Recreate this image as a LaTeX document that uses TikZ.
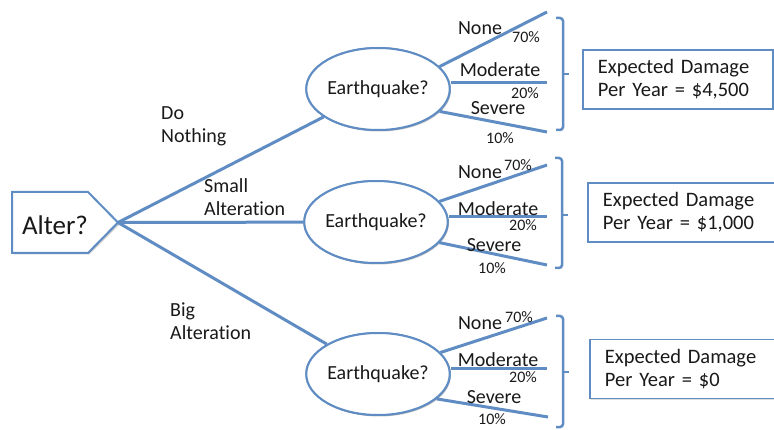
\documentclass[tikz,border=0pt]{standalone}
\usepackage{fontspec}
\setmainfont{Carlito}[RawFeature={-liga;-calt}]
\usetikzlibrary{shapes.geometric,shadows,calc}
\definecolor{lnblue}{RGB}{95,140,195}
\definecolor{txt}{RGB}{25,25,25}
\begin{document}
\begin{tikzpicture}[x=1pt,y=-1pt,
  lbl/.style={font=\fontsize{20}{23}\selectfont, text=txt, inner sep=0pt},
  pct/.style={font=\fontsize{16}{18}\selectfont, text=txt, inner sep=0pt},
  mainlbl/.style={font=\fontsize{20}{23}\selectfont, text=txt, inner sep=0pt, align=left, anchor=west},
  eqnode/.style={ellipse, draw=lnblue, line width=2pt, fill=white, minimum width=120pt, minimum height=82pt, inner sep=0pt, text=txt, font=\fontsize{20}{23}\selectfont, drop shadow={shadow xshift=1.2pt, shadow yshift=-1.5pt, opacity=0.25}},
  dmgbox/.style={draw=lnblue, line width=1.8pt, fill=white, minimum width=190pt, minimum height=59pt, text width=160pt, inner xsep=15pt, align=left, anchor=west, text=txt, font=\fontsize{20.5}{23}\selectfont, drop shadow={shadow xshift=1.5pt, shadow yshift=-1.5pt, opacity=0.25}},
  branch/.style={draw=lnblue, line width=3pt},
  brk/.style={draw=lnblue, line width=2.5pt, rounded corners=3pt},
  altshape/.style={draw=lnblue, line width=2pt, fill=white}
]
\useasboundingbox (0,0) rectangle (774,430);
\fill[black,opacity=0.2] (13.5,193.5) -- (89.5,193.5) -- (120,224) -- (89.5,254.5) -- (13.5,254.5) -- cycle;
\draw[altshape] (12,192) -- (88,192) -- (118,222.5) -- (88,253) -- (12,253) -- cycle;
\node[inner sep=0pt, text=txt, font=\fontsize{27}{30}\selectfont] (alter) at (55,225) {Alter?};
\coordinate (tip) at (118,222.5);

% ellipse nodes (placed first so connectors can name them)
\node[eqnode] (e1) at (378,89) {Earthquake?};
\node[eqnode] (e2) at (376,222) {Earthquake?};
\node[eqnode] (e3) at (378,374) {Earthquake?};

% main branches
\draw[branch] (tip) -- (e1);
\draw[branch] (tip) -- (e2);
\draw[branch] (tip) -- (e3);
\node[eqnode] at (e1) {Earthquake?};
\node[eqnode] at (e2) {Earthquake?};
\node[eqnode] at (e3) {Earthquake?};

% branch end points
\coordinate (n1) at (547,12);  \coordinate (m1) at (547,83);  \coordinate (s1) at (547,132);
\coordinate (n2) at (547,165); \coordinate (m2) at (547,217); \coordinate (s2) at (547,265);
\coordinate (n3) at (547,318); \coordinate (m3) at (547,369); \coordinate (s3) at (548,417);

\draw[branch] (e1.20) -- (n1);
\draw[branch] (e1.east |- m1) -- (m1);
\draw[branch] (e1.-20) -- (s1);
\draw[branch] (e2.18) -- (n2);
\draw[branch] (e2.east |- m2) -- (m2);
\draw[branch] (e2.-18) -- (s2);
\draw[branch] (e3.19) -- (n3);
\draw[branch] (e3.east |- m3) -- (m3);
\draw[branch] (e3.-23) -- (s3);

% main labels
\node[mainlbl] (l1) at (161,126) {Do\\Nothing};
\node[mainlbl] (l2) at (204,197.5) {Small\\Alteration};
\node[mainlbl] (l3) at (170,321.5) {Big\\Alteration};

% outcome labels
\node[lbl] (t1a) at (480,28.5) {None};
\node[pct] (p1a) at (526,37) {70\%};
\node[lbl] (t1b) at (500,70) {Moderate};
\node[pct] (p1b) at (525,93) {20\%};
\node[lbl] (t1c) at (498,108.5) {Severe};
\node[pct] (p1c) at (500,138) {10\%};

\node[lbl] (t2a) at (480,172) {None};
\node[pct] (p2a) at (518,165) {70\%};
\node[lbl] (t2b) at (498,208.5) {Moderate};
\node[pct] (p2b) at (523,225) {20\%};
\node[lbl] (t2c) at (494,245) {Severe};
\node[pct] (p2c) at (492,268) {10\%};

\node[lbl] (t3a) at (480,323) {None};
\node[pct] (p3a) at (519,317) {70\%};
\node[lbl] (t3b) at (498,360) {Moderate};
\node[pct] (p3b) at (523,377) {20\%};
\node[lbl] (t3c) at (494,397) {Severe};
\node[pct] (p3c) at (492,419) {10\%};

% brackets
\draw[brk] (556,18) -- (563,18) -- (563,130) -- (556,130);
\draw[brk] (563,74) -- (569,74);
\draw[brk] (555,158) -- (562,158) -- (562,268) -- (555,268);
\draw[brk] (562,215) -- (568,215);
\draw[brk] (556,316) -- (563,316) -- (563,427) -- (556,427);
\draw[brk] (563,372) -- (569,372);

% result boxes
\node[dmgbox] (b1) at (582,79.5) {Expected Damage\\Per Year = \$4,500};
\node[dmgbox] (b2) at (587,212.5) {Expected Damage\\Per Year = \$1,000};
\node[dmgbox] (b3) at (589,369) {Expected Damage\\Per Year = \$0};
\end{tikzpicture}
\end{document}
